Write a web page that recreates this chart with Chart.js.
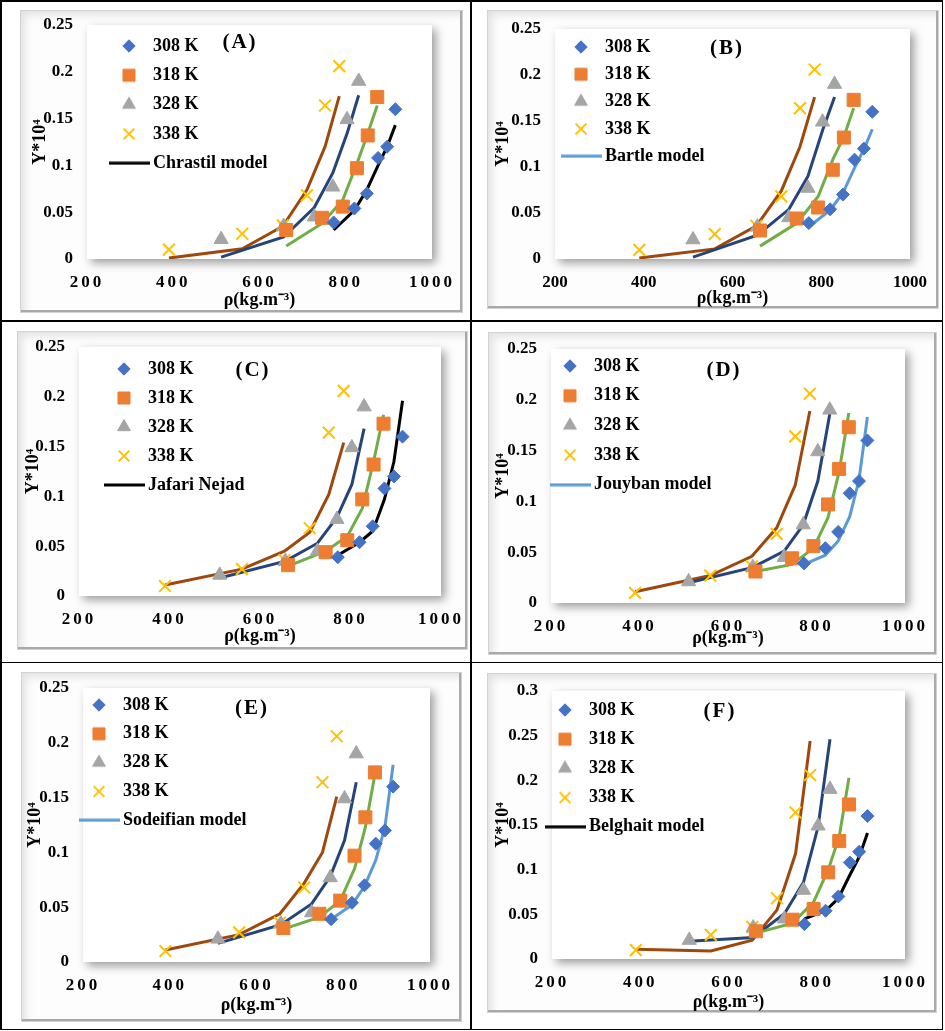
<!DOCTYPE html>
<html><head><meta charset="utf-8">
<script src="https://cdn.jsdelivr.net/npm/chart.js@4.4.1/dist/chart.umd.min.js"></script>
<style>
html,body{margin:0;padding:0;background:#fff;width:945px;height:1031px;overflow:hidden;position:relative;}
.ln{position:absolute;background:#000;}
.frame{position:absolute;box-sizing:border-box;border:1px solid #d2d2d2;background:#fdfdfd;
 box-shadow:inset -2px -2px 0 #a9a9a9, inset 7px 7px 8px -3px rgba(0,0,0,.11);}
canvas{position:absolute;}
.tag{position:absolute;font:bold 21px "Liberation Serif";letter-spacing:2px;transform:translate(-50%,-50%);white-space:nowrap;color:#000;}
</style></head><body>
<div class="ln" style="left:0;top:0;width:943px;height:1.5px"></div>
<div class="ln" style="left:0;top:0;width:1.5px;height:1030px"></div>
<div class="ln" style="left:941.5px;top:0;width:1.5px;height:1030px"></div>
<div class="ln" style="left:0;top:1028.5px;width:943px;height:1.5px"></div>
<div class="ln" style="left:470px;top:0;width:1.5px;height:1030px"></div>
<div class="ln" style="left:0;top:320px;width:943px;height:1.5px"></div>
<div class="ln" style="left:0;top:661.5px;width:943px;height:1.5px"></div>
<script>
// ---- tick labels ----
const xTickValues = [200, 400, 600, 800, 1000];
const yTickValues025 = [0, 0.05, 0.1, 0.15, 0.2, 0.25];
const yTickValues030 = [0, 0.05, 0.1, 0.15, 0.2, 0.25, 0.3];
const tempLabels = ['308 K', '318 K', '328 K', '338 K'];

// ---- experimental data (density kg/m3, Y*10^4) ----
const rho308 = [772, 820, 849, 875, 896, 915];
const rho318 = [662, 745, 793, 826, 851, 873];
const rho328 = [511, 656, 727, 770, 803, 830];
const rho338 = [390, 560, 654, 710, 752, 785];
const exp308 = [0.039, 0.054, 0.070, 0.108, 0.120, 0.160];
const exp318 = [0.031, 0.044, 0.056, 0.097, 0.132, 0.173];
const exp328 = [0.021, 0.035, 0.045, 0.077, 0.149, 0.190];
const exp338 = [0.010, 0.027, 0.036, 0.068, 0.164, 0.206];

// ---- model correlations ----
const chrastil308 = [0.031, 0.052, 0.074, 0.100, 0.120, 0.143];
const chrastil318 = [0.014, 0.038, 0.063, 0.102, 0.134, 0.164];
const chrastil328 = [0.002, 0.0235, 0.055, 0.092, 0.134, 0.175];
const chrastil338 = [0.001, 0.011, 0.035, 0.074, 0.120, 0.174];

const bartle308 = [0.035, 0.053, 0.072, 0.099, 0.119, 0.141];
const bartle318 = [0.014, 0.039, 0.068, 0.108, 0.133, 0.164];
const bartle328 = [0.002, 0.026, 0.054, 0.090, 0.140, 0.176];
const bartle338 = [0.001, 0.011, 0.036, 0.074, 0.122, 0.176];

const jafari308 = [0.041, 0.054, 0.065, 0.097, 0.135, 0.196];
const jafari318 = [0.030, 0.045, 0.060, 0.088, 0.135, 0.182];
const jafari328 = [0.018, 0.035, 0.053, 0.079, 0.112, 0.168];
const jafari338 = [0.011, 0.027, 0.045, 0.064, 0.102, 0.154];

const jouyban308 = [0.038, 0.047, 0.061, 0.085, 0.121, 0.183];
const jouyban318 = [0.031, 0.038, 0.054, 0.084, 0.129, 0.187];
const jouyban328 = [0.020, 0.035, 0.051, 0.077, 0.120, 0.186];
const jouyban338 = [0.011, 0.027, 0.046, 0.074, 0.116, 0.189];

const sodeifian308 = [0.039, 0.052, 0.069, 0.093, 0.123, 0.180];
const sodeifian318 = [0.030, 0.041, 0.056, 0.085, 0.123, 0.171];
const sodeifian328 = [0.017, 0.034, 0.053, 0.078, 0.111, 0.164];
const sodeifian338 = [0.011, 0.025, 0.044, 0.072, 0.100, 0.151];

const belghait308 = [0.045, 0.054, 0.068, 0.094, 0.114, 0.141];
const belghait318 = [0.029, 0.040, 0.064, 0.100, 0.137, 0.203];
const belghait328 = [0.020, 0.024, 0.051, 0.086, 0.148, 0.246];
const belghait338 = [0.011, 0.009, 0.021, 0.055, 0.118, 0.244];

const FONT = 'Liberation Serif';
const C = {d:'#4472C4', s:'#ED7D31', t:'#A5A5A5', x:'#FFC000', brown:'#9E480E', navy:'#264478', green:'#70AD47', black:'#000000', sky:'#5B9BD5'};

const panels = [
 {tag:'(A)', model:'Chrastil model', mc:C.black, m:[chrastil308,chrastil318,chrastil328,chrastil338], yt:yTickValues025, ymax:0.25, sp:true,
  frame:[20,10,443,303], plot:[87,25,432,259], tagPos:[240,41], leg:[129,46,29.3], ytx:20, xtb:13},
 {tag:'(B)', model:'Bartle model', mc:C.sky, m:[bartle308,bartle318,bartle328,bartle338], yt:yTickValues025, ymax:0.25, sp:false,
  frame:[487,10,452,299], plot:[555,29,910,259], tagPos:[727,47], leg:[581,47,27.3], ytx:16, xtb:11},
 {tag:'(C)', model:'Jafari Nejad', mc:C.black, m:[jafari308,jafari318,jafari328,jafari338], yt:yTickValues025, ymax:0.25, sp:true,
  frame:[17,331,451,319], plot:[79,347,441,596], tagPos:[253,369], leg:[124,369,29], ytx:16, xtb:14},
 {tag:'(D)', model:'Jouyban model', mc:C.sky, m:[jouyban308,jouyban318,jouyban328,jouyban338], yt:yTickValues025, ymax:0.25, sp:true,
  frame:[488,332,449,323], plot:[551,349,905,603], tagPos:[724,369], leg:[570,366,29.7], ytx:15, xtb:17},
 {tag:'(E)', model:'Sodeifian model', mc:C.sky, m:[sodeifian308,sodeifian318,sodeifian328,sodeifian338], yt:yTickValues025, ymax:0.25, sp:true,
  frame:[21,672,441,350], plot:[83,688,430,962], tagPos:[252,707], leg:[99,705,28.8], ytx:14, xtb:17},
 {tag:'(F)', model:'Belghait model', mc:C.black, m:[belghait308,belghait318,belghait328,belghait338], yt:yTickValues030, ymax:0.3, sp:true,
  frame:[487,673,450,340], plot:[552,691,905,959], tagPos:[720,710], leg:[565,710,29.2], ytx:16, xtb:11}
];

function pts(xs, ys){ return xs.map((x,i)=>({x:x, y:ys[i]})); }
function lineIcon(color){ const c=document.createElement('canvas'); c.width=41; c.height=4; const g=c.getContext('2d'); g.fillStyle=color; g.fillRect(0,0.5,41,3); return c; }
function markerIcon(style, color, radius, bw){
  const c=document.createElement('canvas'); c.width=20; c.height=20; const g=c.getContext('2d');
  g.fillStyle=color; g.strokeStyle=color; g.lineWidth=bw;
  Chart.helpers.drawPoint(g, {pointStyle:style, radius:radius, borderWidth:bw, rotation:0}, 10, 10);
  return c;
}

function build(p){
  const [fx,fy,fw,fh] = p.frame; const [pl,pt,pr,pb] = p.plot;
  const fr = document.createElement('div'); fr.className='frame';
  Object.assign(fr.style,{left:fx+'px',top:fy+'px',width:fw+'px',height:fh+'px'});
  document.body.appendChild(fr);
  const cv = document.createElement('canvas'); cv.width=fw; cv.height=fh;
  Object.assign(cv.style,{left:fx+'px',top:fy+'px',width:fw+'px',height:fh+'px'});
  document.body.appendChild(cv);
  const tg = document.createElement('div'); tg.className='tag'; tg.textContent=p.tag;
  Object.assign(tg.style,{left:p.tagPos[0]+'px',top:p.tagPos[1]+'px'});
  document.body.appendChild(tg);

  const fontSz = 18, boxW = 30, pad = p.leg[2]-fontSz;
  const tickFont = {family:FONT, weight:'bold', size:17};
  const titleFont = {family:FONT, weight:'bold', size:18};
  const lh = 18*1.2;
  const icons = [markerIcon('rectRot', C.d, 6.2, 1), markerIcon('rect', C.s, 8.5, 1),
                 markerIcon('triangle', C.t, 7.4, 1), markerIcon('crossRot', C.x, 7.6, 2), lineIcon(p.mc)];
  const datasets = [
   {label:tempLabels[0], data:pts(rho308,exp308), pointStyle:'rectRot', pointRadius:6.5, backgroundColor:C.d, borderColor:C.d, borderWidth:1, showLine:false},
   {label:tempLabels[1], data:pts(rho318,exp318), pointStyle:'rect', pointRadius:9.2, backgroundColor:C.s, borderColor:C.s, borderWidth:1, showLine:false},
   {label:tempLabels[2], data:pts(rho328,exp328), pointStyle:'triangle', pointRadius:8.2, backgroundColor:C.t, borderColor:C.t, borderWidth:1, showLine:false},
   {label:tempLabels[3], data:pts(rho338,exp338), pointStyle:'crossRot', pointRadius:8.3, backgroundColor:C.x, borderColor:C.x, borderWidth:2, showLine:false},
   {label:p.model, data:pts(rho308,p.m[0]), showLine:true, borderColor:p.mc, backgroundColor:p.mc, borderWidth:3, pointRadius:0, tension:0},
   {label:'m318', data:pts(rho318,p.m[1]), showLine:true, borderColor:C.green, backgroundColor:C.green, borderWidth:3, pointRadius:0, tension:0},
   {label:'m328', data:pts(rho328,p.m[2]), showLine:true, borderColor:C.navy, backgroundColor:C.navy, borderWidth:3, pointRadius:0, tension:0},
   {label:'m338', data:pts(rho338,p.m[3]), showLine:true, borderColor:C.brown, backgroundColor:C.brown, borderWidth:3, pointRadius:0, tension:0}
  ];
  const bgPlugin = {id:'bg', beforeDraw(c){ const {ctx, chartArea:a}=c; ctx.save();
      ctx.shadowColor='rgba(0,0,0,0.38)'; ctx.shadowBlur=9; ctx.shadowOffsetX=4; ctx.shadowOffsetY=4;
      ctx.fillStyle='#fff'; ctx.fillRect(a.left,a.top,a.right-a.left,a.bottom-a.top); ctx.restore(); }};
  const spPlugin = {id:'sp', afterDatasetsDraw(c){ if(p.sp) c.ctx.letterSpacing='3px'; }, afterDraw(c){ c.ctx.letterSpacing='0px'; }};
  const legPlugin = {id:'legpos', afterUpdate(c){ const lg=c.legend; if(!lg) return;
      lg.left = p.leg[0]-fx-boxW/2-pad; lg.top = p.leg[1]-fy-fontSz/2-pad;
      lg.right = lg.left+300; lg.bottom = lg.top+400; lg.width=300; lg.height=400;
      if (lg.adjustHitBoxes) lg.adjustHitBoxes(); }};
  const defaultGen = Chart.defaults.plugins.legend.labels.generateLabels;

  new Chart(cv, {
    type:'scatter',
    data:{datasets},
    options:{
      responsive:false, animation:false, events:[],
      layout:{padding:{top:pt-fy, right:fx+fw-pr, left:0, bottom:0}},
      scales:{
        x:{type:'linear', min:200, max:1000,
           afterBuildTicks:s=>{ s.ticks = xTickValues.map(v=>({value:v})); },
           afterFit:s=>{ s.height = fy+fh-pb; s.paddingLeft=0; s.paddingRight=0; },
           grid:{display:false, drawTicks:false}, border:{display:false},
           ticks:{z:1, padding:13, color:'#000', font:tickFont, maxRotation:0, autoSkip:false, callback:v=>String(v)},
           title:{display:true, text:'ρ(kg.m⁻³)', color:'#000', font:titleFont, padding:{top:0, bottom:p.xtb-lh/2}}},
        y:{type:'linear', min:0, max:p.ymax,
           afterBuildTicks:s=>{ s.ticks = p.yt.map(v=>({value:v})); },
           afterFit:s=>{ s.width = pl-fx; s.paddingTop=0; s.paddingBottom=0; },
           grid:{display:false, drawTicks:false}, border:{display:false},
           ticks:{padding:14, color:'#000', font:tickFont, callback:v=>String(Math.round(v*100)/100)},
           title:{display:true, text:'Y*10⁴', color:'#000', font:titleFont, padding:{top:p.ytx-lh/2, bottom:0}}}
      },
      plugins:{
        legend:{display:true, position:'chartArea', align:'start',
          labels:{usePointStyle:true, pointStyleWidth:boxW, boxHeight:10, padding:pad, color:'#000',
                  font:{family:FONT, weight:'bold', size:fontSz},
                  generateLabels:(ch)=>defaultGen(ch).filter(it=>it.datasetIndex<=4).map(it=>{ it.pointStyle = icons[it.datasetIndex]; return it; })}},
        tooltip:{enabled:false}, title:{display:false}
      }
    },
    plugins:[bgPlugin, spPlugin, legPlugin]
  });
}
panels.forEach(build);
</script>
</body></html>
